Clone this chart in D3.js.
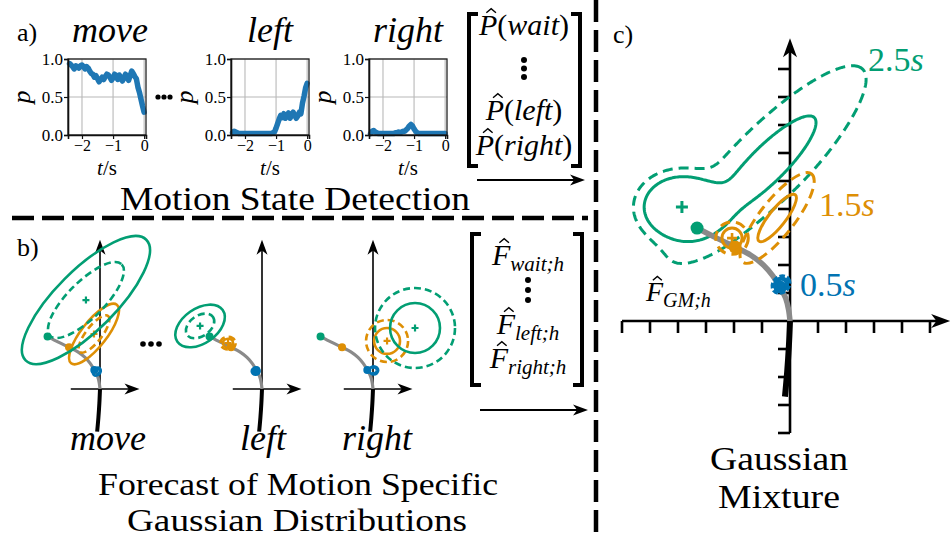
<!DOCTYPE html>
<html>
<head>
<meta charset="utf-8">
<script src="https://cdn.jsdelivr.net/npm/d3@7"></script>
<style>
  body { margin: 0; background: #fff; }
  svg text { font-family: "Liberation Serif", "DejaVu Serif", serif; fill: #000; }
</style>
</head>
<body>
<svg id="fig" width="951" height="538"></svg>
<script>

// ---------- a) motion state probabilities over the last 2.4 s ----------
var tSec = [-2.40,-2.35,-2.30,-2.25,-2.20,-2.15,-2.10,-2.05,-2.00,-1.95,
            -1.90,-1.85,-1.80,-1.75,-1.70,-1.65,-1.60,-1.55,-1.50,-1.45,
            -1.40,-1.35,-1.30,-1.25,-1.20,-1.15,-1.10,-1.05,-1.00,-0.95,
            -0.90,-0.85,-0.80,-0.75,-0.70,-0.65,-0.60,-0.55,-0.50,-0.45,
            -0.40,-0.35,-0.30,-0.25,-0.20,-0.15,-0.10,-0.05,0.00];
var pMove = [0.94,0.92,0.90,0.87,0.91,0.90,0.88,0.91,0.92,0.90,
             0.87,0.90,0.88,0.84,0.81,0.80,0.76,0.78,0.74,0.70,
             0.73,0.76,0.73,0.77,0.80,0.79,0.76,0.72,0.75,0.80,
             0.78,0.73,0.79,0.76,0.71,0.75,0.80,0.76,0.72,0.78,
             0.84,0.81,0.77,0.74,0.63,0.56,0.47,0.38,0.30];
var pLeft = [0.03,0.05,0.04,0.03,0.02,0.02,0.02,0.02,0.02,0.02,
             0.02,0.02,0.02,0.02,0.02,0.02,0.02,0.02,0.02,0.02,
             0.02,0.02,0.02,0.02,0.02,0.02,0.03,0.04,0.09,0.15,
             0.21,0.26,0.23,0.28,0.22,0.25,0.29,0.22,0.26,0.30,
             0.26,0.22,0.25,0.30,0.28,0.42,0.51,0.62,0.68];
var pRight = [0.02,0.05,0.06,0.04,0.03,0.02,0.02,0.02,0.02,0.02,
              0.02,0.02,0.02,0.02,0.02,0.02,0.03,0.03,0.04,0.03,
              0.04,0.05,0.05,0.07,0.09,0.12,0.14,0.12,0.08,0.05,
              0.03,0.02,0.02,0.02,0.02,0.02,0.02,0.02,0.02,0.02,
              0.02,0.02,0.02,0.02,0.02,0.02,0.02,0.02,0.02];
var motionNames = ["move", "left", "right"];
var timeTicks = [-2, -1, 0];
var timeTickLabels = ["\u22122", "\u22121", "0"];
var probTicks = [0, 0.5, 1];
var probTickLabels = ["0.0", "0.5", "1.0"];
var matrixNames = ["wait", "left", "right"];

// ---------- b) / c) trajectory (units of the small grid) ----------
var futureX = [0, -0.05, -0.15, -0.36, -0.62, -0.95, -1.40, -1.96, -2.60, -3.32];
var futureY = [0,  0.40,  0.80,  1.21,  1.62,  2.00,  2.35,  2.64,  2.95,  3.32];
var pastX = [0, -0.04, -0.10, -0.18];
var pastY = [0, -0.90, -1.80, -2.70];
var horizonLabels = ["0.5", "1.5", "2.5"];
var horizonIndex = [3, 7, 9];

// b) forecast Gaussians per motion, one row per horizon (0.5, 1.5, 2.5 s):
// [cx, cy, solid rx, solid ry, dashed rx, dashed ry, angle]
var gaussMove = [
  [-0.20, 1.10, 0.28, 0.22, 0.20, 0.16, 45],
  [-0.38, 3.48, 2.35, 0.80, 1.45, 0.50, 52],
  [-0.89, 5.63, 5.40, 1.90, 3.20, 1.15, 45]
];
var gaussLeft = [
  [-0.40, 1.12, 0.25, 0.22, 0.18, 0.16, 0],
  [-2.15, 2.90, 0.32, 0.28, 0.48, 0.40, 0],
  [-3.92, 3.99, 1.75, 1.10, 1.00, 0.65, 35]
];
var gaussRight = [
  [0.05, 1.18, 0.28, 0.26, 0.20, 0.18, 0],
  [0.89, 3.04, 0.82, 0.82, 1.33, 1.33, 0],
  [2.66, 3.86, 1.58, 1.58, 2.53, 2.53, 0]
];

// c) mixture for 2.5 s (move, left, right) drawn as density contours
var mixWeight = [0.30, 0.27, 0.02];
var mixMean = [[-0.80, 5.60], [-3.86, 4.07], [2.66, 3.86]];
var mixSigma = [[2.66, 0.72], [0.69, 0.55], [1.6, 1.6]];
var mixAngle = [45, 0, 0];
var mixLevels = [0.0049, 0.0169];   // dashed, solid
// c) 1.5 s and 0.5 s mixture parts as ellipses
var mix15 = [[-0.46, 3.68, 1.05, 0.30, 2.00, 0.62, 52], [-2.07, 2.96, 0.36, 0.36, 0.58, 0.58, 0]];
var mix05 = [[-0.32, 1.30, 0.22, 0.20, 0.32, 0.26, 40]];
var cTicksX = [-6, -5, -4, -3, -2, -1, 1, 2, 3, 4, 5];
var cTicksY = [-4, -3, -2, -1, 1, 2, 3, 4, 5, 6, 7, 8, 9];

var FONT = '"Liberation Serif", "DejaVu Serif", serif';
var C_BLUE = "#0173b2", C_ORANGE = "#de8f05", C_GREEN = "#029e73", C_GRAY = "#8a8a8a";
var horizonColor = [C_BLUE, C_ORANGE, C_GREEN];

var svg = d3.select("#fig");

// helpers
function txt(g, x, y, fs) {
    return g.append("text").attr("x", x).attr("y", y).attr("font-size", fs).style("font-family", FONT);
}

function arrowHead(g, x, y, ang, len, hw) {
    g.append("path")
        .attr("d", "M0,0L" + (-len) + "," + hw + "L" + (-len * 0.72) + ",0L" + (-len) + "," + (-hw) + "Z")
        .attr("transform", "translate(" + x + "," + y + ") rotate(" + ang + ")")
        .attr("fill", "#000");
}

function hat(textSel, idx, baseY, fs) {
    var e = textSel.node().getExtentOfChar(idx);
    var cx = e.x + e.width * 0.5 + fs * 0.1;
    var y0 = baseY - fs * 0.74, y1 = baseY - fs * 0.88;
    svg.append("path")
        .attr("d", "M" + (cx - fs * 0.16) + "," + y0 + "L" + cx + "," + y1 + "L" + (cx + fs * 0.16) + "," + y0)
        .attr("fill", "none").attr("stroke", "#000").attr("stroke-width", 1.4);
}

function drawEllipses(g, rows, x, y, color, sw, dash) {
    var k = x(1) - x(0);
    rows.forEach(function(r) {
        var cx = x(r[0]), cy = y(r[1]);
        g.append("ellipse").attr("cx", cx).attr("cy", cy)
            .attr("rx", r[2] * k).attr("ry", r[3] * k)
            .attr("transform", "rotate(" + (-r[6]) + "," + cx + "," + cy + ")")
            .attr("fill", "none").attr("stroke", color).attr("stroke-width", sw);
        g.append("ellipse").attr("cx", cx).attr("cy", cy)
            .attr("rx", r[4] * k).attr("ry", r[5] * k)
            .attr("transform", "rotate(" + (-r[6]) + "," + cx + "," + cy + ")")
            .attr("fill", "none").attr("stroke", color).attr("stroke-width", sw)
            .attr("stroke-dasharray", dash);
    });
}

function plus(g, px, py, s, color, sw) {
    g.append("path").attr("d", "M" + (px - s) + "," + py + "H" + (px + s) + "M" + px + "," + (py - s) + "V" + (py + s))
        .attr("stroke", color).attr("stroke-width", sw);
}

// ================= a) =================
var plotLeft = [68, 231, 369];
var plotTop = 59, plotH = 76, plotW = 78;
var seriesA = [pMove, pLeft, pRight];
var titleX = [110, 270, 408];

txt(svg, 17, 41, 26).text("a)");

motionNames.forEach(function(name, k) {
    var x = d3.scaleLinear().domain([-2.45, 0.06]).range([plotLeft[k], plotLeft[k] + plotW]);
    var y = d3.scaleLinear().domain([0, 1]).range([plotTop + plotH, plotTop]);
    var g = svg.append("g");

    g.selectAll(".gx").data(timeTicks).enter().append("line")
        .attr("x1", x).attr("x2", x).attr("y1", y(0)).attr("y2", y(1))
        .attr("stroke", "#b8b8b8").attr("stroke-width", 1.1);
    g.selectAll(".gy").data(probTicks).enter().append("line")
        .attr("x1", x.range()[0]).attr("x2", x.range()[1]).attr("y1", y).attr("y2", y)
        .attr("stroke", "#b8b8b8").attr("stroke-width", 1.1);

    var line = d3.line().x(function(d, i) { return x(tSec[i]); }).y(function(d) { return y(d); });
    g.append("path").datum(seriesA[k]).attr("d", line)
        .attr("fill", "none").attr("stroke", "#1f77b4").attr("stroke-width", 5.5)
        .attr("stroke-linejoin", "round").attr("stroke-linecap", "round");

    // frame
    g.append("rect").attr("x", x.range()[0]).attr("y", y(1)).attr("width", plotW).attr("height", plotH)
        .attr("fill", "none").attr("stroke", "#222").attr("stroke-width", 1.3);

    var ax = g.append("g").attr("transform", "translate(0," + y(0) + ")")
        .call(d3.axisBottom(x).tickValues(timeTicks).tickSizeOuter(0).tickSize(4).tickPadding(1)
            .tickFormat(function(d, i) { return timeTickLabels[i]; }));
    var ay = g.append("g").attr("transform", "translate(" + x.range()[0] + ",0)")
        .call(d3.axisLeft(y).tickValues(probTicks).tickSizeOuter(0).tickSize(4).tickPadding(1)
            .tickFormat(function(d, i) { return probTickLabels[i]; }));
    ax.attr("font-size", 16);
    ay.attr("font-size", 17);
    [ax, ay].forEach(function(a) {
        a.attr("font-family", null);
        a.selectAll("text").style("font-family", FONT);
        a.select(".domain").attr("stroke", "#111").attr("stroke-width", 1.6);
        a.selectAll(".tick line").attr("stroke", "#111").attr("stroke-width", 1.2);
    });

    txt(g, titleX[k], 42, 36).attr("text-anchor", "middle").attr("font-style", "italic").text(name);
    txt(g, 0, 0, 26).attr("transform", "translate(" + (plotLeft[k] - 44) + "," + (plotTop + plotH / 2) + ") rotate(-90)")
        .attr("text-anchor", "middle").attr("dominant-baseline", "middle")
        .attr("font-style", "italic").text("p");
    var ts = txt(g, plotLeft[k] + plotW / 2, 175, 21).attr("text-anchor", "middle");
    ts.append("tspan").attr("font-style", "italic").text("t");
    ts.append("tspan").text("/s");
});

// ellipsis dots between plots
[158, 164, 170].forEach(function(cx) {
    svg.append("circle").attr("cx", cx).attr("cy", 97).attr("r", 2.6).attr("fill", "#000");
});

// matrix of probabilities
function bracket(x, y0, y1, dir, sw) {
    svg.append("path").attr("d", "M" + (x + dir * 9) + "," + y0 + "H" + x + "V" + y1 + "H" + (x + dir * 9))
        .attr("fill", "none").attr("stroke", "#000").attr("stroke-width", sw);
}
bracket(469, 14, 166, 1, 4);
bracket(580, 14, 166, -1, 4);
var pBase = [35, 120, 155];
matrixNames.forEach(function(n, i) {
    var t = txt(svg, 524, pBase[i], 30).attr("text-anchor", "middle");
    t.append("tspan").attr("font-style", "italic").text("P");
    t.append("tspan").text("(");
    t.append("tspan").attr("font-style", "italic").text(n);
    t.append("tspan").text(")");
    hat(t, 0, pBase[i], 30);
});
[60, 68.5, 77].forEach(function(cy) {
    svg.append("circle").attr("cx", 524).attr("cy", cy).attr("r", 3).attr("fill", "#000");
});
svg.append("line").attr("x1", 477).attr("x2", 574).attr("y1", 180).attr("y2", 180).attr("stroke", "#000").attr("stroke-width", 2);
arrowHead(svg, 585, 180, 0, 15, 5.5);

txt(svg, 295, 210, 33).attr("text-anchor", "middle")
    .attr("textLength", 350).attr("lengthAdjust", "spacingAndGlyphs").text("Motion State Detection");

// separators
svg.append("line").attr("x1", 12).attr("x2", 588).attr("y1", 218).attr("y2", 218)
    .attr("stroke", "#000").attr("stroke-width", 4.5).attr("stroke-dasharray", "22,8");
svg.append("line").attr("x1", 596).attr("x2", 596).attr("y1", 0).attr("y2", 538)
    .attr("stroke", "#000").attr("stroke-width", 4.5).attr("stroke-dasharray", "22,8");

// ================= b) =================
txt(svg, 17, 256, 26).text("b)");

var diagOrigin = [[100, 389], [262, 389], [373, 389]];
var labelX = [108, 263, 377];
var gaussB = [gaussMove, gaussLeft, gaussRight];
var kB = 15.8;

function trajectory(g, x, y, grayW, pastW, dotR) {
    var lf = d3.line().curve(d3.curveCatmullRom)
        .x(function(d, i) { return x(futureX[i]); }).y(function(d, i) { return y(futureY[i]); });
    var lp = d3.line().curve(d3.curveCatmullRom)
        .x(function(d, i) { return x(pastX[i]); }).y(function(d, i) { return y(pastY[i]); });
    g.append("path").datum(futureX).attr("d", lf).attr("fill", "none").attr("stroke", C_GRAY).attr("stroke-width", grayW);
    g.append("path").datum(pastX).attr("d", lp).attr("fill", "none").attr("stroke", "#000").attr("stroke-width", pastW);
    horizonIndex.forEach(function(idx, h) {
        g.append("circle").attr("cx", x(futureX[idx])).attr("cy", y(futureY[idx])).attr("r", dotR).attr("fill", horizonColor[h]);
    });
}

motionNames.forEach(function(name, k) {
    var o = diagOrigin[k];
    var x = d3.scaleLinear().domain([0, 1]).range([o[0], o[0] + kB]);
    var y = d3.scaleLinear().domain([0, 1]).range([o[1], o[1] - kB]);
    var g = svg.append("g");

    g.append("line").attr("x1", x(-1.85)).attr("x2", x(2.5) - 10).attr("y1", y(0)).attr("y2", y(0))
        .attr("stroke", "#000").attr("stroke-width", 1.6);
    arrowHead(g, x(2.5), y(0), 0, 15, 5.5);
    g.append("line").attr("x1", x(0)).attr("x2", x(0)).attr("y1", y(0)).attr("y2", y(9.45) + 10)
        .attr("stroke", "#000").attr("stroke-width", 1.6);
    arrowHead(g, x(0), y(9.45), -90, 15, 5.5);

    trajectory(g, x, y, 3.2, 4, 4);

    gaussB[k].forEach(function(r, h) {
        drawEllipses(g, [r], x, y, horizonColor[h], 2.6, "7,4");
        if (h > 0) plus(g, x(r[0]), y(r[1]), 3.5, horizonColor[h], 2.2);
    });

    txt(g, labelX[k], 450, 36).attr("text-anchor", "middle").attr("font-style", "italic").text(name);
});

[143, 151, 159].forEach(function(cx) {
    svg.append("circle").attr("cx", cx).attr("cy", 344).attr("r", 2.8).attr("fill", "#000");
});

// matrix of forecasts
bracket(472, 234, 385, 1, 4);
bracket(582, 234, 385, -1, 4);
var fBase = [265, 334, 368];
matrixNames.forEach(function(n, i) {
    var t = txt(svg, 528, fBase[i], 30).attr("text-anchor", "middle");
    t.append("tspan").attr("font-style", "italic").text("F");
    t.append("tspan").attr("font-style", "italic").attr("font-size", 21).attr("dy", 6).text(n + ";h");
    hat(t, 0, fBase[i], 30);
});
[280, 290, 300].forEach(function(cy) {
    svg.append("circle").attr("cx", 528).attr("cy", cy).attr("r", 3).attr("fill", "#000");
});
svg.append("line").attr("x1", 480).attr("x2", 577).attr("y1", 410).attr("y2", 410).attr("stroke", "#000").attr("stroke-width", 2);
arrowHead(svg, 588, 410, 0, 15, 5.5);

txt(svg, 298, 495, 31).attr("text-anchor", "middle")
    .attr("textLength", 400).attr("lengthAdjust", "spacingAndGlyphs").text("Forecast of Motion Specific");
txt(svg, 297, 531, 31).attr("text-anchor", "middle")
    .attr("textLength", 340).attr("lengthAdjust", "spacingAndGlyphs").text("Gaussian Distributions");

// ================= c) =================
txt(svg, 613, 43, 26).text("c)");

var kC = 28;
var xc = d3.scaleLinear().domain([0, 1]).range([790, 790 + kC]);
var yc = d3.scaleLinear().domain([0, 1]).range([321, 321 - kC]);
var gc = svg.append("g");

gc.append("line").attr("x1", xc(-6)).attr("x2", xc(5.72) - 12).attr("y1", yc(0)).attr("y2", yc(0))
    .attr("stroke", "#000").attr("stroke-width", 2.6);
arrowHead(gc, xc(5.72), yc(0), 0, 19, 7);
gc.append("line").attr("x1", xc(0)).attr("x2", xc(0)).attr("y1", yc(-4)).attr("y2", yc(10.1) + 12)
    .attr("stroke", "#000").attr("stroke-width", 2.6);
arrowHead(gc, xc(0), yc(10.1), -90, 19, 7);
gc.selectAll(".tx").data(cTicksX).enter().append("line")
    .attr("x1", xc).attr("x2", xc).attr("y1", yc(0)).attr("y2", yc(0) + 12)
    .attr("stroke", "#000").attr("stroke-width", 2.6);
gc.selectAll(".ty").data(cTicksY).enter().append("line")
    .attr("y1", yc).attr("y2", yc).attr("x1", xc(0)).attr("x2", xc(0) - 12)
    .attr("stroke", "#000").attr("stroke-width", 2.6);

// mixture density on a grid
function gauss2(px, py, mu, s, angDeg) {
    var a = angDeg * Math.PI / 180, dx = px - mu[0], dy = py - mu[1];
    var u = dx * Math.cos(a) + dy * Math.sin(a), v = -dx * Math.sin(a) + dy * Math.cos(a);
    return Math.exp(-0.5 * (u * u / (s[0] * s[0]) + v * v / (s[1] * s[1]))) / (2 * Math.PI * s[0] * s[1]);
}
var gx0 = -7.5, gy0 = -5, step = 0.05, nx = 280, ny = 330;
var dens = new Float64Array(nx * ny);
for (var j = 0; j < ny; j++) {
    for (var i = 0; i < nx; i++) {
        var px = gx0 + i * step, py = gy0 + j * step, s = 0;
        for (var m = 0; m < mixWeight.length; m++) s += mixWeight[m] * gauss2(px, py, mixMean[m], mixSigma[m], mixAngle[m]);
        dens[i + j * nx] = s;
    }
}
var contours = d3.contours().size([nx, ny]).thresholds(mixLevels)(dens);
var gridProj = d3.geoTransform({
    point: function(a, b) { this.stream.point(xc(gx0 + (a - 0.5) * step), yc(gy0 + (b - 0.5) * step)); }
});
gc.selectAll(".ct").data(contours).enter().append("path")
    .attr("d", d3.geoPath(gridProj))
    .attr("fill", "none").attr("stroke", C_GREEN).attr("stroke-width", 3)
    .attr("stroke-linejoin", "round")
    .attr("stroke-dasharray", function(d, i) { return i === 0 ? "10,6" : null; });
plus(gc, xc(mixMean[1][0]), yc(mixMean[1][1]), 6, C_GREEN, 3);

trajectory(gc, xc, yc, 5.5, 6, 6.5);

drawEllipses(gc, mix15, xc, yc, C_ORANGE, 3, "10,6");
plus(gc, xc(mix15[1][0]), yc(mix15[1][1]), 5, C_ORANGE, 2.6);
drawEllipses(gc, mix05, xc, yc, C_BLUE, 4.5, "5,2");

function horizonText(x, y, label, color) {
    var t = txt(svg, x, y, 34).style("fill", color);
    t.append("tspan").text(label);
    t.append("tspan").attr("font-style", "italic").text("s");
}
horizonText(868, 71, horizonLabels[2], C_GREEN);
horizonText(819, 216, horizonLabels[1], C_ORANGE);
horizonText(800, 296, horizonLabels[0], C_BLUE);

var fgm = txt(svg, 646, 301, 28);
fgm.append("tspan").attr("font-style", "italic").text("F");
fgm.append("tspan").attr("font-style", "italic").attr("font-size", 20).attr("dy", 6).text("GM;h");
hat(fgm, 0, 301, 28);

txt(svg, 779, 470, 34).attr("text-anchor", "middle")
    .attr("textLength", 138).attr("lengthAdjust", "spacingAndGlyphs").text("Gaussian");
txt(svg, 779, 508, 34).attr("text-anchor", "middle")
    .attr("textLength", 122).attr("lengthAdjust", "spacingAndGlyphs").text("Mixture");

</script>
</body>
</html>
